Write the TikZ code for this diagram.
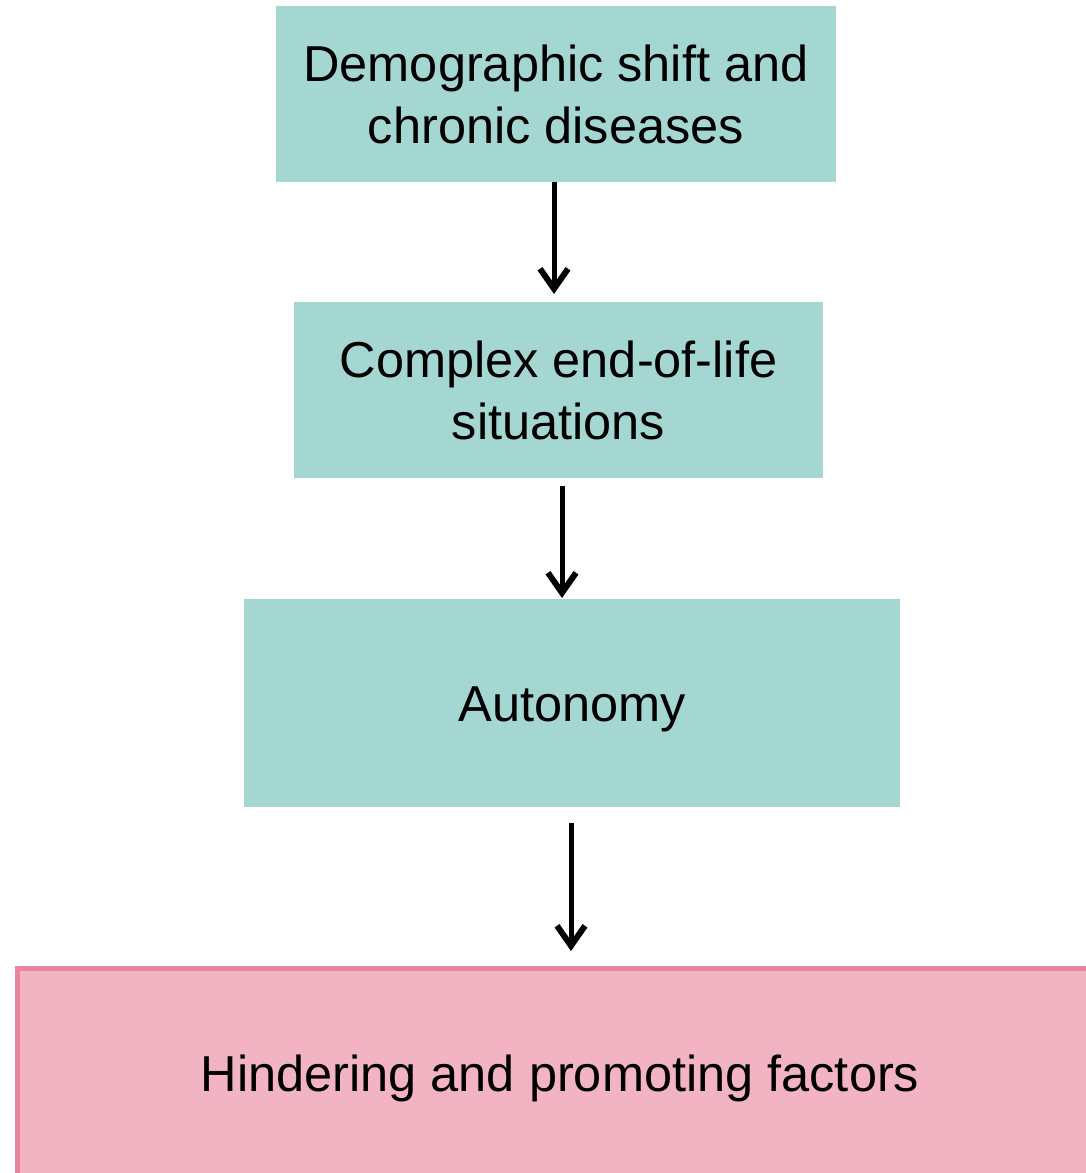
\documentclass[tikz,border=0pt]{standalone}
\usepackage{fontspec}
\setmainfont{Liberation Sans}
\usetikzlibrary{arrows.meta}
\definecolor{tealbox}{HTML}{A5D7D2}
\definecolor{pinkfill}{HTML}{F2B3C3}
\definecolor{pinkline}{HTML}{E8849C}
\tikzset{
  tbox/.style={fill=tealbox, draw=none, inner sep=0pt, align=center, font=\fontsize{50.5}{62}\selectfont},
  conn/.style={line width=5pt, -{Straight Barb[length=20pt, width=28pt, line width=6pt]}},
}
\begin{document}
\begin{tikzpicture}[x=1pt,y=-1pt]
\useasboundingbox (0,0) rectangle (1086,1173);
\clip (0,0) rectangle (1086,1173);
\node[tbox, minimum width=560pt, minimum height=176pt] (b1) at (556,94) {Demographic shift and\\chronic diseases};
\node[tbox, minimum width=529pt, minimum height=176pt] (b2) at (558.5,390) {Complex end-of-life\\situations};
\node[tbox, minimum width=656pt, minimum height=208pt] (b3) at (572,703) {};
\node[font=\fontsize{50.5}{62}\selectfont] (t3) at (572,709) {Autonomy};
\node[fill=pinkfill, draw=pinkline, line width=5pt, minimum width=1100pt, minimum height=240pt, inner sep=0pt, anchor=north west] (b4) at (14.5,965.5) {};
\node[font=\fontsize{50.5}{62}\selectfont] (t4) at (560,1078) {Hindering and promoting factors};
\coordinate (a1s) at (554,182);
\coordinate (a1e) at (554,294);
\coordinate (a2s) at (562,486);
\coordinate (a2e) at (562,598);
\coordinate (a3s) at (571,823);
\coordinate (a3e) at (571,951);
\draw[conn] (a1s) -- (a1e);
\draw[conn] (a2s) -- (a2e);
\draw[conn] (a3s) -- (a3e);
\end{tikzpicture}
\end{document}
